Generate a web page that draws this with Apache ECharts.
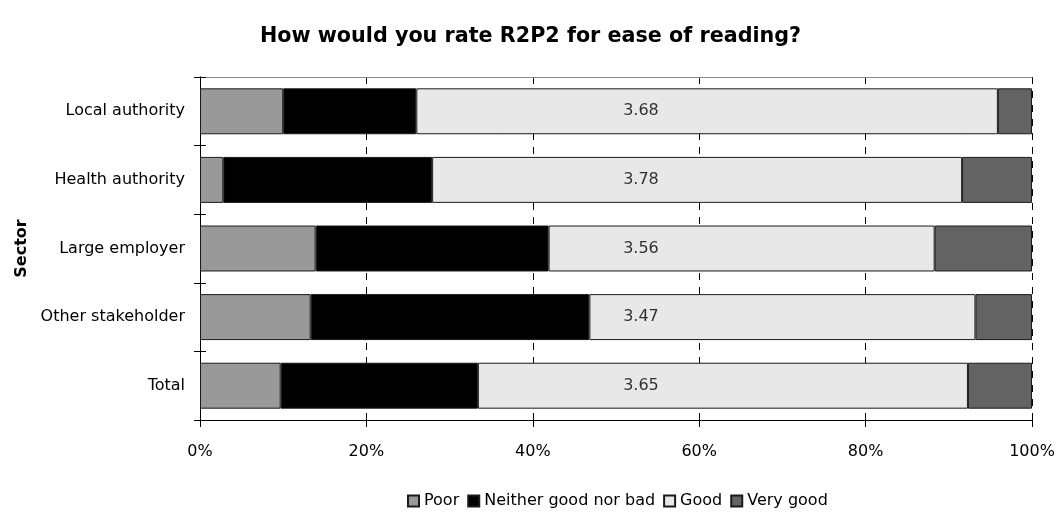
<!DOCTYPE html>
<html>
<head>
<meta charset="utf-8">
<title>R2P2 ease of reading</title>
<script src="https://cdn.jsdelivr.net/npm/echarts@6/dist/echarts.min.js"></script>
<style>
  html, body { margin: 0; padding: 0; background: #fff; }
  #chart { width: 1061px; height: 516px; }
</style>
</head>
<body>
<div id="chart"></div>
<script>
// Sectors, top to bottom
const sectors = ['Local authority', 'Health authority', 'Large employer', 'Other stakeholder', 'Total'];

// Share of responses (%) per rating
const poor     = [10.0,  2.8, 13.9, 13.3,  9.7];
const neither  = [16.0, 25.1, 28.0, 33.5, 23.7];
const good     = [69.9, 63.7, 46.4, 46.4, 58.9];
const veryGood = [ 4.1,  8.4, 11.7,  6.8,  7.7];

// Mean score per sector
const means = ['3.68', '3.78', '3.56', '3.47', '3.65'];

const xTicks = [0, 20, 40, 60, 80, 100];

const FONT = 'DejaVu Sans';
const MEAN_X = 53; // horizontal placement of the mean labels, in axis units

function barSeries(name, values, color) {
  return {
    name: name,
    type: 'bar',
    stack: 'share',
    xAxisIndex: 0,
    yAxisIndex: 0,
    barCategoryGap: '33%',
    data: values,
    itemStyle: { color: color, borderColor: '#1a1a1a', borderWidth: 1 },
    emphasis: { disabled: true }
  };
}

const chart = echarts.init(document.getElementById('chart'), null, { renderer: 'canvas' });

chart.setOption({
  animation: false,
  backgroundColor: '#ffffff',
  title: {
    text: 'How would you rate R2P2 for ease of reading?',
    left: 'center',
    top: 21,
    textStyle: { fontFamily: FONT, fontWeight: 'bold', fontSize: 20.7, color: '#000' }
  },
  legend: {
    left: 407,
    top: 493,
    padding: 0,
    itemWidth: 11,
    itemHeight: 11,
    itemGap: 8,
    icon: 'rect',
    textStyle: { fontFamily: FONT, fontSize: 16, color: '#000' },
    data: ['Poor', 'Neither good nor bad', 'Good', 'Very good']
  },
  grid: { left: 200, right: 29, top: 77, bottom: 96 },
  xAxis: [
    {
      type: 'value',
      position: 'bottom',
      min: 0,
      max: 100,
      interval: 20,
      axisLine: { show: true, lineStyle: { color: '#000', width: 1 } },
      axisTick: { show: true, length: 7, lineStyle: { color: '#000' } },
      axisLabel: {
        fontFamily: FONT, fontSize: 16, color: '#000', margin: 24,
        formatter: v => (xTicks.includes(v) ? v + '%' : '')
      },
      splitLine: { show: true, lineStyle: { color: '#000', type: [7, 7], width: 1 } }
    },
    {
      type: 'value',
      position: 'bottom',
      min: 0,
      max: 100,
      interval: 20,
      axisLine: { show: false },
      axisTick: { show: true, inside: true, length: 7, lineStyle: { color: '#000' } },
      axisLabel: { show: false },
      splitLine: { show: false }
    },
    {
      type: 'value',
      position: 'top',
      min: 0,
      max: 100,
      interval: 20,
      axisLine: { show: true, lineStyle: { color: '#8a8a8a', width: 1 } },
      axisTick: { show: false },
      axisLabel: { show: false },
      splitLine: { show: false }
    }
  ],
  yAxis: [
    {
      type: 'category',
      position: 'left',
      inverse: true,
      data: sectors,
      name: 'Sector',
      nameLocation: 'middle',
      nameGap: 169,
      nameTextStyle: { fontFamily: FONT, fontWeight: 'bold', fontSize: 16, color: '#000' },
      axisLine: { show: true, lineStyle: { color: '#000', width: 1 } },
      axisTick: { show: true, length: 6, lineStyle: { color: '#000' } },
      axisLabel: { fontFamily: FONT, fontSize: 16, color: '#000', margin: 15 },
      splitLine: { show: false }
    },
    {
      type: 'category',
      position: 'left',
      inverse: true,
      data: sectors,
      axisLine: { show: false },
      axisTick: { show: true, inside: true, length: 6, lineStyle: { color: '#000' } },
      axisLabel: { show: false },
      splitLine: { show: false }
    },
    {
      type: 'category',
      position: 'right',
      inverse: true,
      data: sectors,
      axisLine: { show: true, lineStyle: { color: '#000', width: 1 } },
      axisTick: { show: false },
      axisLabel: { show: false },
      splitLine: { show: false }
    }
  ],
  series: [
    barSeries('Poor', poor, '#999999'),
    barSeries('Neither good nor bad', neither, '#000000'),
    barSeries('Good', good, '#e8e8e8'),
    barSeries('Very good', veryGood, '#636363'),
    {
      name: 'Mean',
      type: 'scatter',
      xAxisIndex: 0,
      yAxisIndex: 0,
      symbolSize: 0,
      silent: true,
      z: 5,
      data: sectors.map((s, i) => ({ value: [MEAN_X, s], label: { formatter: means[i] } })),
      label: {
        show: true,
        position: 'inside',
        fontFamily: FONT,
        fontSize: 16,
        color: '#000'
      }
    }
  ]
});
</script>
</body>
</html>
